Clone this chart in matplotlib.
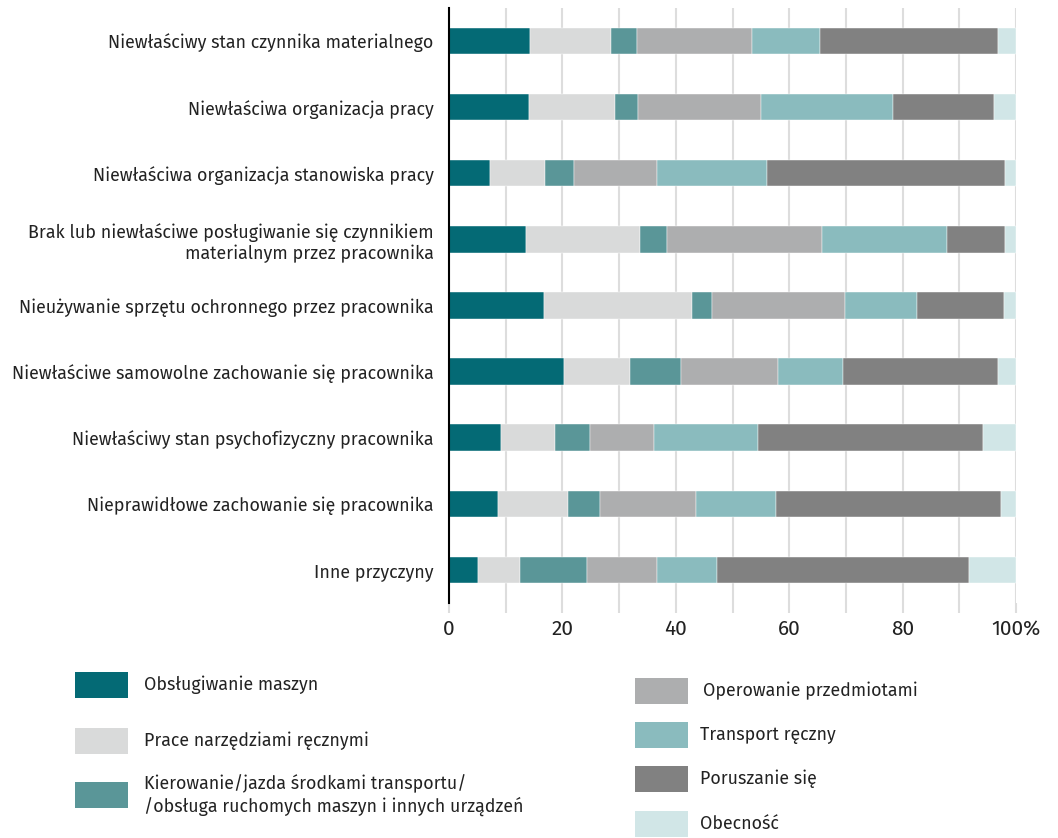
import matplotlib
matplotlib.use("Agg")
import matplotlib.pyplot as plt
from matplotlib.patches import Rectangle
import numpy as np

plt.rcParams['font.family'] = ['Fira Sans', 'Open Sans', 'DejaVu Sans']

categories = [
    "Niewłaściwy stan czynnika materialnego",
    "Niewłaściwa organizacja pracy",
    "Niewłaściwa organizacja stanowiska pracy",
    "Brak lub niewłaściwe posługiwanie się czynnikiem\nmaterialnym przez pracownika",
    "Nieużywanie sprzętu ochronnego przez pracownika",
    "Niewłaściwe samowolne zachowanie się pracownika",
    "Niewłaściwy stan psychofizyczny pracownika",
    "Nieprawidłowe zachowanie się pracownika",
    "Inne przyczyny",
]

series_names = [
    "Obsługiwanie maszyn",
    "Prace narzędziami ręcznymi",
    "Kierowanie/jazda środkami transportu/\n/obsługa ruchomych maszyn i innych urządzeń",
    "Operowanie przedmiotami",
    "Transport ręczny",
    "Poruszanie się",
    "Obecność",
]

obslugiwanie = [14.3, 14.1, 7.2, 13.5, 16.8, 20.2, 9.2, 8.7, 5.1]
prace = [14.3, 15.1, 9.7, 20.2, 26.1, 11.7, 9.5, 12.3, 7.4]
kierowanie = [4.5, 4.2, 5.1, 4.7, 3.5, 9.0, 6.2, 5.6, 11.8]
operowanie = [20.4, 21.6, 14.6, 27.3, 23.5, 17.2, 11.2, 16.9, 12.3]
transport = [12.0, 23.3, 19.4, 22.1, 12.6, 11.4, 18.4, 14.2, 10.6]
poruszanie = [31.4, 17.8, 42.0, 10.2, 15.4, 27.4, 39.7, 39.6, 44.5]
obecnosc = [3.1, 3.9, 2.0, 2.0, 2.1, 3.1, 5.8, 2.7, 8.3]

colors = ["#046A75", "#D9DADA", "#5A9698", "#ADAEAF", "#8ABBBE", "#818181", "#D1E6E7"]

W, H = 1058, 838
fig = plt.figure(figsize=(W / 100, H / 100), dpi=100)
ax = fig.add_axes([449 / W, 1 - 603 / H, (1016 - 449) / W, (603 - 8) / H])

data = [obslugiwanie, prace, kierowanie, operowanie, transport, poruszanie, obecnosc]
y = np.arange(len(categories))
left = np.zeros(len(categories))
for vals, c in zip(data, colors):
    vals = np.array(vals)
    ax.barh(y, vals, left=left, height=0.4, color=c, edgecolor='white', linewidth=0.3, zorder=3)
    left += vals

ax.set_ylim(len(categories) - 0.5, -0.5)
ax.set_xlim(0, 100)
ax.set_yticks(y)
ax.set_yticklabels(categories, fontsize=12.9, color='#222222')
ax.tick_params(axis='y', length=0, pad=11)
for lbl in ax.get_yticklabels():
    lbl.set_horizontalalignment('right')
    lbl.set_multialignment('right')

xt = np.arange(0, 101, 10)
ax.set_xticks(xt)
ax.set_xticklabels([("100%" if v == 100 else str(v)) if v % 20 == 0 else "" for v in xt],
                   fontsize=15, color='#222222')
ax.tick_params(axis='x', length=7, width=1.5, color='#DDDDDD', pad=5)
ax.grid(axis='x', color='#DDDDDD', linewidth=1.5, zorder=0)
for s in ['top', 'right', 'bottom']:
    ax.spines[s].set_visible(False)
ax.spines['left'].set_color('black')
ax.spines['left'].set_linewidth(1.5)
ax.spines['left'].set_zorder(5)

# legend
def add_item(x0, y0, w, h, color, text, tx):
    fig.add_artist(Rectangle((x0 / W, 1 - (y0 + h) / H), w / W, h / H,
                             transform=fig.transFigure, color=color, linewidth=0))
    fig.text(tx / W, 1 - (y0 + h / 2) / H, text, fontsize=12.8, color='#222222',
             va='center', ha='left', linespacing=1.2)

left_pos = [672, 728, 782]
for i in range(3):
    add_item(75, left_pos[i], 53, 26, colors[i], series_names[i], 144)
right_pos = [678, 722, 766, 811]
right_tx = [703, 700, 700, 700]
for j in range(4):
    add_item(635, right_pos[j], 53, 26, colors[3 + j], series_names[3 + j], right_tx[j])

fig.savefig("out.png", dpi=100)
